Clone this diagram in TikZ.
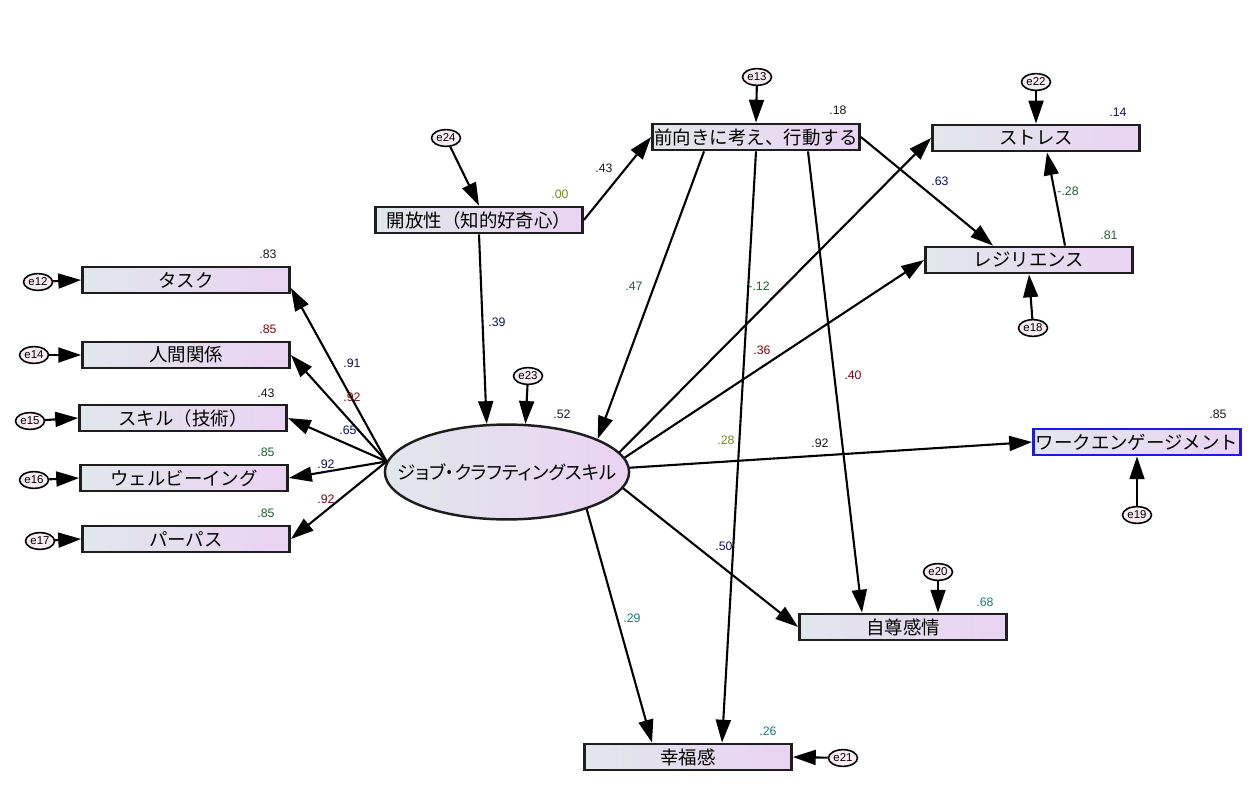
\documentclass[tikz,border=0pt]{standalone}
\usepackage{fontspec}
\setmainfont{Liberation Sans}
\newfontfamily\jpfont{Noto Sans CJK JP}
\newfontfamily\jpprop[RawFeature=+palt]{Noto Sans CJK JP}
\usetikzlibrary{positioning, arrows.meta, shapes.geometric, calc}
\definecolor{boxleft}{HTML}{E1E7EA}
\definecolor{boxright}{HTML}{EAD3F3}
\definecolor{boxline}{HTML}{1E1E1E}
\definecolor{engblue}{HTML}{1A1AE0}
\definecolor{errfill}{HTML}{F6ECF2}
\definecolor{cblack}{HTML}{1A1A1A}
\definecolor{cred}{HTML}{7A0A0A}
\definecolor{cgreen}{HTML}{1F5F2F}
\definecolor{cnavy}{HTML}{101060}
\definecolor{colive}{HTML}{6E8B1E}
\definecolor{cteal}{HTML}{1F7A7A}

\begin{document}
\begin{tikzpicture}[x=0.02cm, y=-0.02cm,
    varbox/.style={draw=boxline, line width=1.4pt, left color=boxleft, right color=boxright,
      minimum width=118pt, minimum height=15pt, inner sep=0pt,
      font=\jpfont\fontsize{10.5}{12}\selectfont},
    latent/.style={ellipse, draw=boxline, line width=1.4pt, left color=boxleft, right color=boxright,
      minimum width=139pt, minimum height=54pt, inner sep=0pt,
      font=\jpprop\fontsize{10.5}{12}\selectfont},
    errvar/.style={ellipse, draw=black, line width=0.9pt, fill=errfill,
      minimum width=16.5pt, minimum height=9.5pt, inner sep=0pt,
      font=\fontsize{6.5}{7}\selectfont},
    effect/.style={draw, line width=1.2pt, -{Triangle[length=13pt, width=8.5pt]}},
    coef/.style={font=\fontsize{7}{8}\selectfont, inner sep=0pt}]

  \fill[white] (0,0) rectangle (1256,810);
  \useasboundingbox (0,0) rectangle (1256,810);

  % observed variables
  \node[varbox] (kaiho) at (479,220) {開放性（知的好奇心）};
  \node[varbox] (maemuki) at (756,137) {前向きに考え、行動する};
  \node[varbox] (stress) at (1036,138) {ストレス};
  \node[varbox] (resil) at (1029,260) {レジリエンス};
  \node[varbox] (task) at (186,280) {タスク};
  \node[varbox] (ningen) at (186,355) {人間関係};
  \node[varbox] (skill) at (183,418) {スキル（技術）};
  \node[varbox] (wellb) at (184,478) {ウェルビーイング};
  \node[varbox] (purpose) at (186,539) {パーパス};
  \node[varbox, draw=engblue] (engage) at (1137,442) {ワークエンゲージメント};
  \node[varbox] (jison) at (903,627) {自尊感情};
  \node[varbox] (koufuku) at (688,757) {幸福感};

  % latent variable
  \node[latent] (jcs) at (507,472) {\makebox[0pt]{ジョブ・クラフティングスキル}};

  % error terms
  \foreach \n/\x/\y in {24/446/138, 13/757/77, 22/1036/82, 18/1033/328, 12/38/282,
      14/34/355, 15/30/421, 16/34/480, 17/40/541, 23/528/376, 19/1137/515,
      20/938/572, 21/843/758}
    \node[errvar] (e\n) at (\x,\y) {e\n};

  \draw[effect] (e24) -- (kaiho.north);
  \draw[effect] (e13) -- (maemuki.north);
  \draw[effect] (e22) -- (stress.north);
  \draw[effect] (e18) -- (resil.south);
  \draw[effect] (e19) -- (engage.south);
  \draw[effect] (e20) -- ($(jison.north)+(35,0)$);
  \draw[effect] (e21) -- (koufuku.east);
  \draw[effect] (e23) -- (jcs.69);
  \foreach \n/\b in {12/task, 14/ningen, 15/skill, 16/wellb, 17/purpose}
    \draw[effect] (e\n) -- (\b.west);

  % paths
  \draw[effect] (kaiho.east) -- (maemuki.west);
  \draw[effect] (kaiho.south) -- (jcs.113);
  \draw[effect] ($(maemuki.south)+(-52,0)$) -- (jcs.20);
  \draw[effect] (maemuki.south) -- ($(koufuku.north)+(34,0)$);
  \draw[effect] ($(maemuki.south)+(52,0)$) -- ($(jison.north)+(-41,0)$);
  \draw[effect] (maemuki.east) -- ($(resil.north)+(-36,0)$);
  \draw[effect] (jcs.10) -- (stress.west);
  \draw[effect] (jcs.7) -- (resil.west);
  \draw[effect] (jcs.2) -- (engage.west);
  \draw[effect] (jcs.-8) -- (jison.west);
  \draw[effect] (jcs.-25) -- ($(koufuku.north)+(-36,0)$);
  \draw[effect] ($(resil.north)+(36,0)$) -- ($(stress.south)+(11,0)$);
  \draw[effect] (jcs.175) -- ($(task.east)+(0,8)$);
  \draw[effect] (jcs.175) -- (ningen.east);
  \draw[effect] (jcs.175) -- (skill.east);
  \draw[effect] (jcs.175) -- (wellb.east);
  \draw[effect] (jcs.175) -- (purpose.east);

  % estimates
  \foreach \x/\y/\t/\c in {560/194/.00/colive, 604/168/.43/cblack, 838/110/.18/cblack,
      1118/112/.14/cnavy, 940/181/.63/cnavy, 1068/191/-.28/cgreen, 1109/235/.81/cgreen,
      268/254/.83/cblack, 268/329/.85/cred, 266/393/.43/cblack, 266/452/.85/cgreen,
      266/513/.85/cgreen, 352/363/.91/cnavy, 352/397/.92/cred, 348/430/.65/cnavy,
      326/464/.92/cnavy, 326/499/.92/cred, 497/322/.39/cnavy, 562/414/.52/cblack,
      634/286/.47/cgreen, 759/286/-.12/cgreen, 762/350/.36/cred, 853/375/.40/cred,
      726/440/.28/colive, 820/443/.92/cblack, 1218/414/.85/cblack, 724/546/.50/cnavy,
      632/618/.29/cteal, 985/602/.68/cteal, 768/731/.26/cteal}
    \node[coef, text=\c] at (\x,\y) {\t};
\end{tikzpicture}
\end{document}
